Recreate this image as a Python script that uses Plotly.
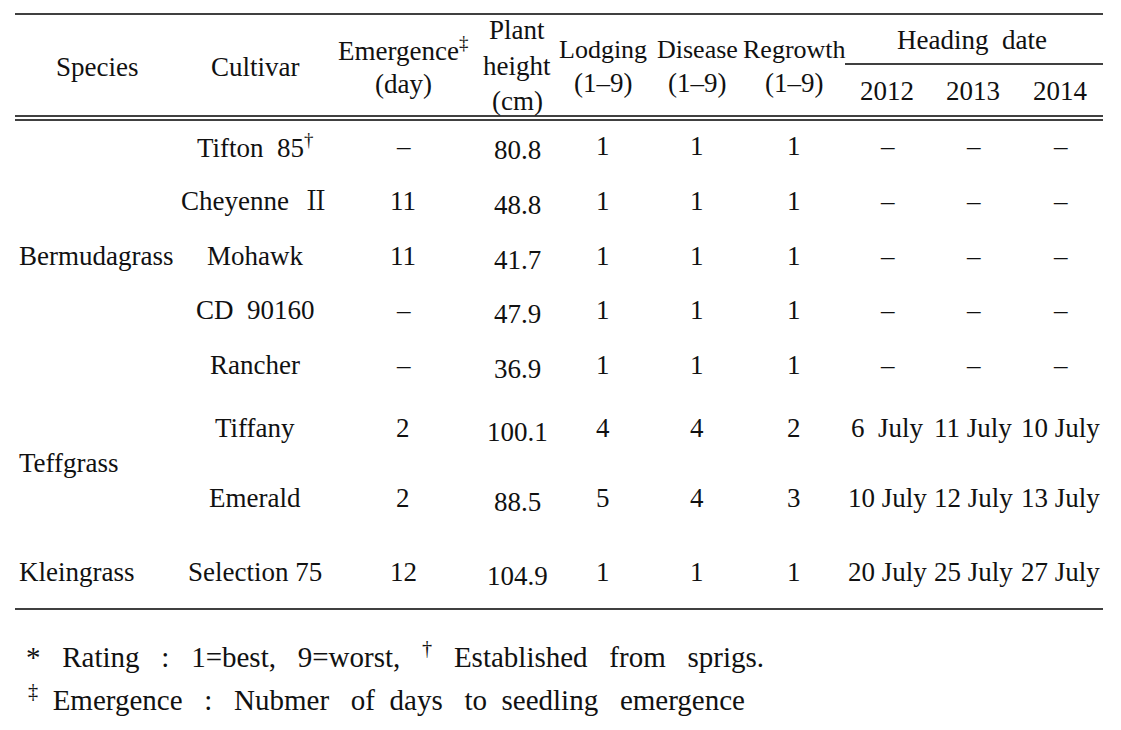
import plotly.graph_objects as go

# ---------------- data ----------------
cultivars = ["Tifton  85<sup>†</sup>", "Cheyenne  Ⅱ", "Mohawk", "CD  90160", "Rancher",
             "Tiffany", "Emerald", "Selection 75"]
emergence = ["–", "11", "11", "–", "–", "2", "2", "12"]
plant_height = ["80.8", "48.8", "41.7", "47.9", "36.9", "100.1", "88.5", "104.9"]
lodging = ["1", "1", "1", "1", "1", "4", "5", "1"]
disease = ["1", "1", "1", "1", "1", "4", "4", "1"]
regrowth = ["1", "1", "1", "1", "1", "2", "3", "1"]
heading_2012 = ["–", "–", "–", "–", "–", "6  July", "10 July", "20 July"]
heading_2013 = ["–", "–", "–", "–", "–", "11 July", "12 July", "25 July"]
heading_2014 = ["–", "–", "–", "–", "–", "10 July", "13 July", "27 July"]
species = ["Bermudagrass", "Teffgrass", "Kleingrass"]
years = ["2012", "2013", "2014"]
footnotes = ["*   Rating   :   1=best,   9=worst,   <sup>†</sup>   Established   from   sprigs.",
             "<sup>‡</sup>  Emergence   :   Nubmer   of  days   to  seedling   emergence"]

# ---------------- layout constants ----------------
W, H = 1121, 730
OFF = 8  # page body margin
FONT = "Liberation Serif, Noto Serif CJK KR, serif"
FS = 27
row_y = [146, 201, 256, 310, 365, 428, 498, 572]
col_x = {"cult": 255, "emer": 403, "ht": 517, "lod": 603, "dis": 697, "reg": 794,
         "h12": 887, "h13": 973, "h14": 1060}
species_y = [256, 463, 572]

fig = go.Figure()
# invisible trace so the axes exist
fig.add_trace(go.Scatter(x=[OFF, W], y=[OFF, H], mode="markers",
                         marker=dict(opacity=0), hoverinfo="skip", showlegend=False))


def texts(xs, ys, labels, anchor="center", size=FS):
    for x, y, t in zip(xs, ys, labels):
        fig.add_annotation(x=x, y=y, xref="x", yref="y", text=t, showarrow=False,
                           xanchor=anchor, yanchor="middle",
                           font=dict(family=FONT, size=size, color="#111"))


# body columns
texts([col_x["cult"]] * len(cultivars), row_y, cultivars)
texts([col_x["emer"]] * len(emergence), row_y, emergence)
texts([col_x["ht"]] * len(plant_height), [y + 4 for y in row_y], plant_height)
texts([col_x["lod"]] * len(lodging), row_y, lodging)
texts([col_x["dis"]] * len(disease), row_y, disease)
texts([col_x["reg"]] * len(regrowth), row_y, regrowth)
texts([col_x["h12"]] * len(heading_2012), row_y, heading_2012)
texts([col_x["h13"]] * len(heading_2013), row_y, heading_2013)
texts([col_x["h14"]] * len(heading_2014), row_y, heading_2014)
texts([17] * len(species), species_y, species, anchor="left")

# header
texts([97, 255], [67, 67], ["Species", "Cultivar"])
texts([403, 403], [49, 84], ["Emergence<sup>‡</sup>", "(day)"])
texts([517, 517, 517], [30, 66, 101], ["Plant", "height", "(cm)"])
texts([col_x["lod"], col_x["dis"], col_x["reg"]], [49, 49, 49],
      ["Lodging", "Disease", "Regrowth"], size=26)
texts([col_x["lod"], col_x["dis"], col_x["reg"]], [83, 83, 83],
      ["(1–9)", "(1–9)", "(1–9)"])
texts([972], [40], ["Heading  date"])
texts([col_x["h12"], col_x["h13"], col_x["h14"]], [91, 91, 91], years)

# footnotes
texts([24, 26], [655, 698], footnotes, anchor="left", size=29)

line = dict(color="#000", width=1.5)
shapes = [
    dict(type="line", x0=15, x1=1103, y0=14, y1=14, line=line),
    dict(type="line", x0=845, x1=1103, y0=64, y1=64, line=line),
    dict(type="line", x0=15, x1=1103, y0=116, y1=116, line=line),
    dict(type="line", x0=15, x1=1103, y0=120, y1=120, line=line),
    dict(type="line", x0=15, x1=1103, y0=609, y1=609, line=line),
]
for s in shapes:
    s.update(xref="x", yref="y")

fig.update_layout(
    width=W - OFF, height=H - OFF, margin=dict(l=0, r=0, t=0, b=0),
    paper_bgcolor="white", plot_bgcolor="white",
    xaxis=dict(range=[OFF, W], visible=False, fixedrange=True),
    yaxis=dict(range=[H, OFF], visible=False, fixedrange=True),
    shapes=shapes,
)
fig.write_html("out.html")
